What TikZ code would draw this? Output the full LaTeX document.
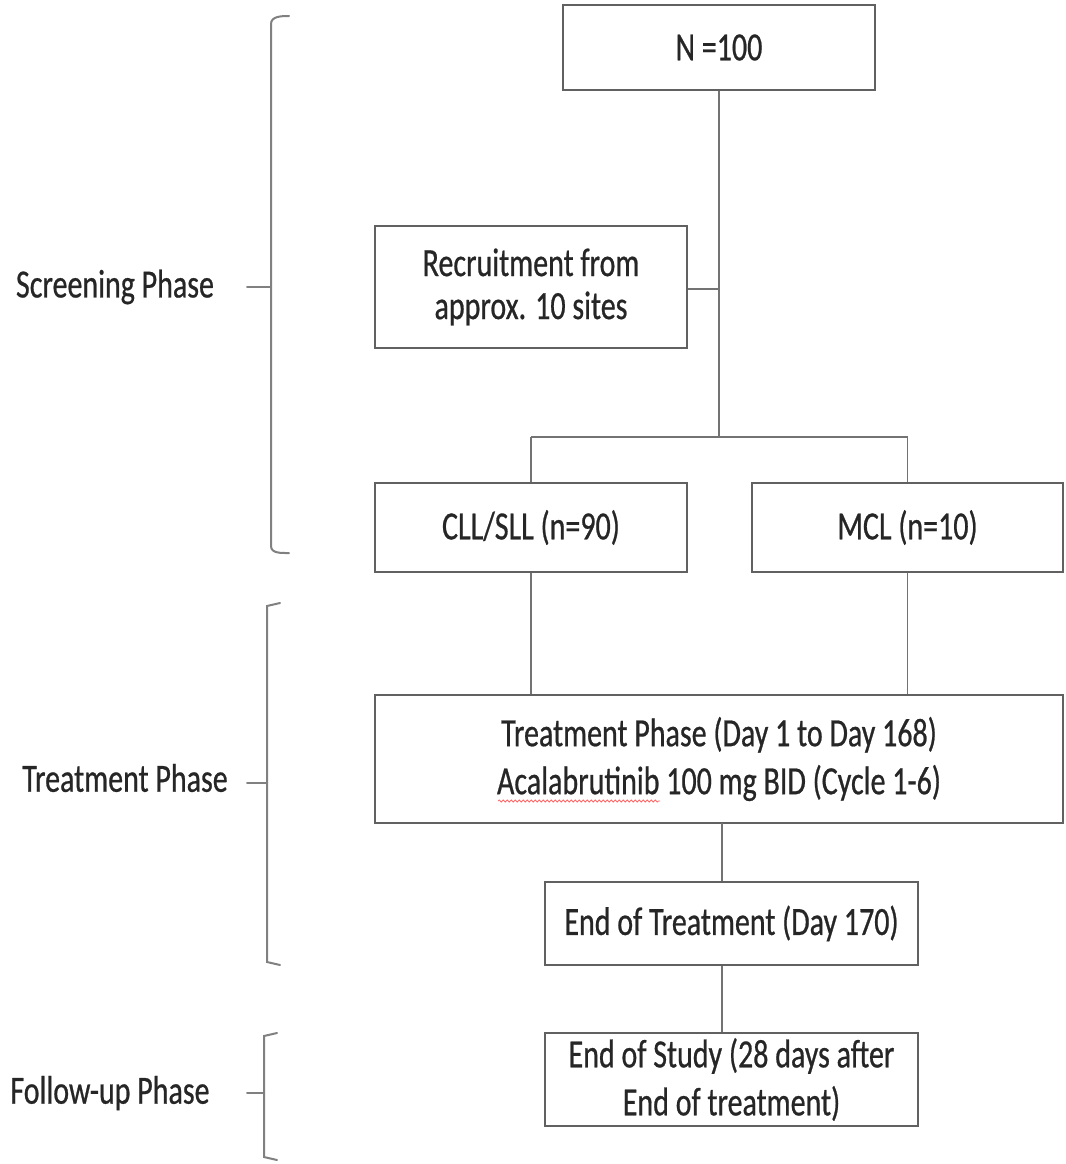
\documentclass[tikz,border=0pt]{standalone}
\usepackage{fontspec}
\setmainfont{Carlito}[FakeStretch=0.75,FakeBold=0.6]
\usetikzlibrary{decorations.pathmorphing}
\begin{document}
\begin{tikzpicture}[x=1pt,y=-1pt,
  box/.style={draw=black!62,line width=2pt,fill=white,align=center,inner sep=0pt,
    font=\fontsize{40}{48}\selectfont,text=black!85},
  conn/.style={draw=black!55,line width=1.6pt},
  brace/.style={draw=black!50,line width=2pt,line cap=round},
  plabel/.style={font=\fontsize{40}{48}\selectfont,text=black!85,inner sep=0pt}]
\useasboundingbox[fill=white] (0,0) rectangle (1065,1164);
% boxes
\node[box,minimum width=312pt,minimum height=85pt] (n100) at (719,47.5) {N =100};
\node[box,minimum width=312pt,minimum height=122pt,font=\fontsize{40}{43}\selectfont] (recruit) at (531,287) {Recruitment from\\approx. 10 sites};
\node[box,minimum width=312pt,minimum height=89pt] (cll) at (531,527.5) {CLL/SLL (n=90)};
\node[box,minimum width=311pt,minimum height=89pt] (mcl) at (907.5,527.5) {MCL (n=10)};
\node[box,minimum width=688pt,minimum height=128pt] (treat) at (719,759) {Treatment Phase (Day 1 to Day 168)\\Acalabrutinib 100 mg BID (Cycle 1-6)};
\node[box,minimum width=373pt,minimum height=83pt] (eot) at (731.5,923.5) {End of Treatment (Day 170)};
\node[box,minimum width=373pt,minimum height=93pt] (eos) at (731.5,1079.5) {End of Study (28 days after\\End of treatment)};
% connectors
\coordinate (split) at (719,437);
\coordinate (rj) at (719,289);
\draw[conn] (n100.south) -- (split);
\draw[conn] (recruit.east |- rj) -- (rj);
\draw[conn] (split -| cll.north) -- (split -| mcl.north);
\draw[conn] (split -| cll.north) -- (cll.north);
\draw[conn] (split -| mcl.north) -- (mcl.north);
\draw[conn] (cll.south) -- (cll.south |- treat.north);
\draw[conn] (mcl.south) -- (mcl.south |- treat.north);
\coordinate (tb) at (722,823);
\draw[conn] (tb) -- (tb |- eot.north);
\draw[conn] (tb |- eot.south) -- (tb |- eos.north);
% spellcheck squiggle
\draw[red!60,line width=0.8pt,decorate,decoration={snake,amplitude=1pt,segment length=4pt}] (498,801) -- (660,801);
% braces
\draw[brace] (289,16) to[out=180,in=90] (271,24) -- (271,546) to[out=-90,in=180] (289,553);
\draw[brace] (247,287) -- (271,287);
\draw[brace] (280,603) -- (267,606) -- (267,962) -- (280,965);
\draw[brace] (247,783) -- (267,783);
\draw[brace] (277,1033) -- (264,1036) -- (264,1157) -- (277,1160);
\draw[brace] (247,1093) -- (264,1093);
% labels
\node[plabel] (lscr) at (115,287) {Screening Phase};
\node[plabel] (ltrt) at (125,778) {Treatment Phase};
\node[plabel] (lfu) at (110,1093) {Follow-up Phase};
\end{tikzpicture}
\end{document}
